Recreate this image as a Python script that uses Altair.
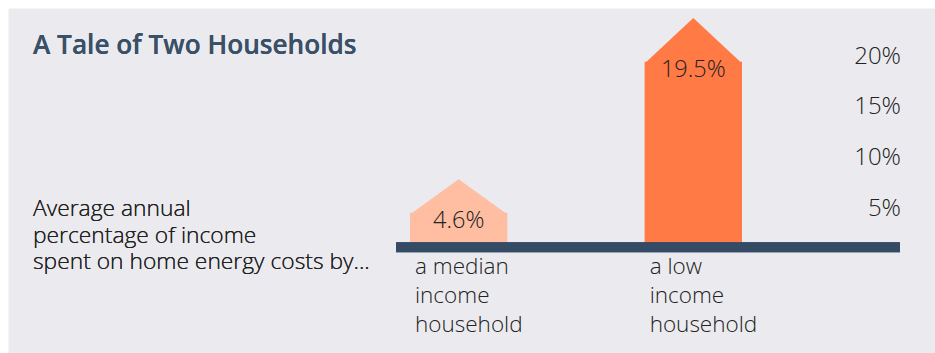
import altair as alt
import pandas as pd

# ---- data ----
categories = ["median", "low"]
category_labels = ["a median\nincome\nhousehold", "a low\nincome\nhousehold"]
values = [4.6, 19.5]
value_labels = ["4.6%", "19.5%"]
tick_values = [5, 10, 15, 20]
tick_labels = ["5%", "10%", "15%", "20%"]
title_text = "A Tale of Two Households"
subtitle_text = "Average annual\npercentage of income\nspent on home energy costs by..."

# ---- style ----
BG = "#ebebef"
HOUSE_COLORS = ["#ffbda2", "#ff7a45"]
BASE_COLOR = "#354b65"
TITLE_COLOR = "#3a5068"
TEXT_COLOR = "#222222"
FONT = "Open Sans"
BASE_LEVEL = 1.2
ROOF_PATHS = ["M-1,0.03 L0,-0.69 L1,0.03 Z", "M-1,0.03 L0,-0.9 L1,0.03 Z"]

df = pd.DataFrame({
    "cat": categories,
    "label": category_labels,
    "value": values,
    "vlabel": value_labels,
})
ticks = pd.DataFrame({"v": tick_values, "t": tick_labels})

xscale = alt.Scale(domain=categories, range=[402, 734], paddingInner=0.585, paddingOuter=0)
yscale = alt.Scale(domain=[0, 20], range=[251.3, 48.7], nice=False, zero=False)
cscale = alt.Scale(domain=categories, range=HOUSE_COLORS)

base = alt.Chart(df).encode(
    x=alt.X("cat:N", scale=xscale, axis=None, sort=categories)
)

bars = base.mark_bar(strokeWidth=0).encode(
    y=alt.Y("value:Q", scale=yscale, axis=None),
    y2=alt.datum(BASE_LEVEL),
    color=alt.Color("cat:N", scale=cscale, legend=None),
)

roofs = base.mark_point(filled=True, opacity=1, strokeWidth=0, size=97 * 97).encode(
    y=alt.Y("value:Q", scale=yscale, axis=None),
    color=alt.Color("cat:N", scale=cscale, legend=None),
    shape=alt.Shape("cat:N", scale=alt.Scale(domain=categories, range=ROOF_PATHS), legend=None),
)

baseline = alt.Chart(df).mark_rule(color=BASE_COLOR, strokeWidth=10, strokeCap="butt").encode(
    x=alt.value(388), x2=alt.value(892),
    y=alt.Y(datum=BASE_LEVEL, scale=yscale, axis=None),
)

vlabels = base.mark_text(font=FONT, fontSize=23.5, fontWeight=300, color=TEXT_COLOR,
                         baseline="middle", dy=8).encode(
    y=alt.Y("value:Q", scale=yscale, axis=None),
    text="vlabel:N",
)

clabels = alt.Chart(df).mark_text(font=FONT, fontSize=22.5, fontWeight=300, color=TEXT_COLOR,
                                  align="left", baseline="alphabetic", lineBreak="\n",
                                  lineHeight=29, dx=5).encode(
    x=alt.X("cat:N", scale=xscale, axis=None, sort=categories, bandPosition=0),
    y=alt.value(266),
    text="label:N",
)

tick_text = alt.Chart(ticks).mark_text(font=FONT, fontSize=24, fontWeight=300, color=TEXT_COLOR,
                                       align="right", baseline="middle").encode(
    x=alt.value(893),
    y=alt.Y("v:Q", scale=yscale, axis=None),
    text="t:N",
)

title = alt.Chart(df).mark_text(font=FONT, fontSize=26.2, fontWeight=600, color=TITLE_COLOR,
                                align="left", baseline="alphabetic").encode(
    x=alt.value(25), y=alt.value(46), text=alt.value(title_text)
)

subtitle = alt.Chart(df).mark_text(font=FONT, fontSize=22.8, fontWeight=300, color=TEXT_COLOR,
                                   align="left", baseline="alphabetic", lineBreak="\n",
                                   lineHeight=26.5).encode(
    x=alt.value(25), y=alt.value(208), text=alt.value(subtitle_text)
)

chart = alt.layer(bars, roofs, baseline, vlabels, clabels, tick_text, title, subtitle).properties(
    width=927, height=345,
    padding={"left": 8, "top": 8, "right": 0, "bottom": 0},
    autosize=alt.AutoSizeParams(type="none"),
    background="white",
).configure_view(fill=BG, strokeOpacity=0)

chart.save("out.html", embed_options={"renderer": "svg", "actions": False})
